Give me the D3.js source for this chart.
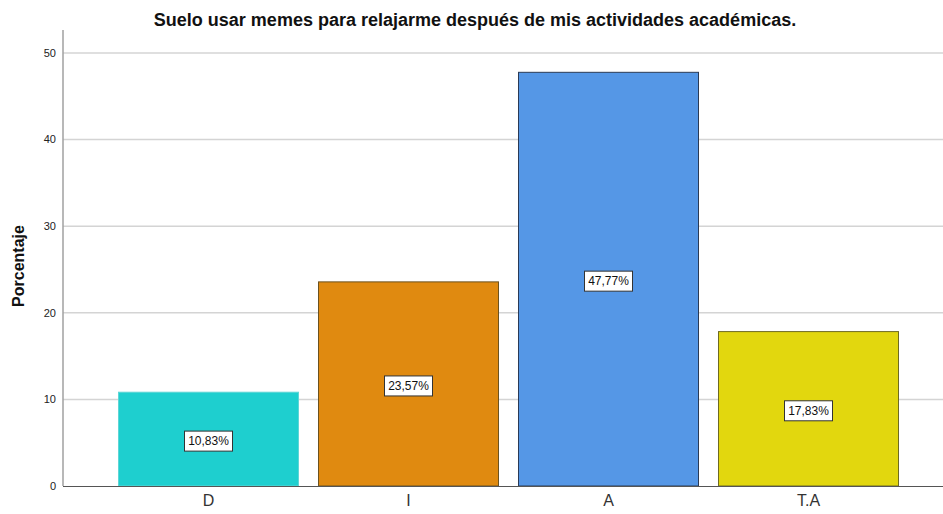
<!DOCTYPE html>
<html><head><meta charset="utf-8">
<script src="https://cdn.jsdelivr.net/npm/d3@7"></script>
<style>body{margin:0;background:#fff;}svg{display:block;font-family:"Liberation Sans",Arial,sans-serif;}</style>
</head><body><svg id="c" width="943" height="514"></svg>
<script>
const categories = ["D", "I", "A", "T.A"];
const values = [10.83, 23.57, 47.77, 17.83];
const labels = ["10,83%", "23,57%", "47,77%", "17,83%"];
const colors = ["#1ecfcf", "#e08a10", "#5597e6", "#e2d70e"];
const strokes = ["#5fd6d6", "#6b5220", "#2a3a55", "#6e6a22"];
const yTicks = [0, 10, 20, 30, 40, 50];

const svg = d3.select("#c");
const x0 = 63, yBase = 486;
const y = d3.scaleLinear().domain([0, 50]).range([yBase, 53]);
const x = d3.scaleBand().domain(categories).range([108, 908]).paddingInner(0.1).paddingOuter(0.05);

// grid
svg.append("g").selectAll("line").data(yTicks.filter(d => d > 0)).join("line")
  .attr("x1", x0).attr("x2", 943).attr("y1", d => y(d)).attr("y2", d => y(d))
  .attr("stroke", "#d4d4d4").attr("stroke-width", 1.5);

// bars
svg.append("g").selectAll("rect").data(values).join("rect")
  .attr("x", (d, i) => x(categories[i]) + 0.5)
  .attr("y", d => y(d))
  .attr("width", x.bandwidth())
  .attr("height", d => yBase - y(d))
  .attr("fill", (d, i) => colors[i])
  .attr("stroke", (d, i) => strokes[i]).attr("stroke-width", 1);

// axes
svg.append("line").attr("x1", x0).attr("x2", x0).attr("y1", 30).attr("y2", yBase).attr("stroke", "#a0a0a0").attr("stroke-width", 1.5);
svg.append("line").attr("x1", x0).attr("x2", 943).attr("y1", yBase + 0.5).attr("y2", yBase + 0.5).attr("stroke", "#555").attr("stroke-width", 1);

// y tick labels
svg.append("g").selectAll("text").data(yTicks).join("text")
  .attr("x", x0 - 7).attr("y", d => y(d)).attr("dy", "0.35em")
  .attr("text-anchor", "end").attr("font-size", 11).attr("fill", "#222")
  .text(d => d);

// x labels
svg.append("g").selectAll("text").data(categories).join("text")
  .attr("x", d => x(d) + x.bandwidth() / 2 + 0.5).attr("y", 506)
  .attr("text-anchor", "middle").attr("font-size", 16).attr("fill", "#333")
  .text(d => d);

// value labels
const lg = svg.append("g").selectAll("g").data(values).join("g")
  .attr("transform", (d, i) => `translate(${x(categories[i]) + x.bandwidth() / 2 + 0.5},${y(d / 2) + 2})`);
lg.append("rect").attr("x", -24).attr("y", -10).attr("width", 48).attr("height", 20)
  .attr("fill", "#fff").attr("stroke", "#333").attr("stroke-width", 1);
lg.append("text").attr("text-anchor", "middle").attr("dy", "0.36em").attr("font-size", 12).attr("fill", "#111")
  .text((d, i) => labels[i]);

// title
svg.append("text").attr("x", 475).attr("y", 26).attr("text-anchor", "middle")
  .attr("font-size", 18).attr("font-weight", "bold").attr("fill", "#111")
  .text("Suelo usar memes para relajarme después de mis actividades académicas.");

// y axis title
svg.append("text").attr("transform", "translate(24,266) rotate(-90)").attr("text-anchor", "middle")
  .attr("font-size", 16).attr("font-weight", "bold").attr("fill", "#111").text("Porcentaje");
</script></body></html>
